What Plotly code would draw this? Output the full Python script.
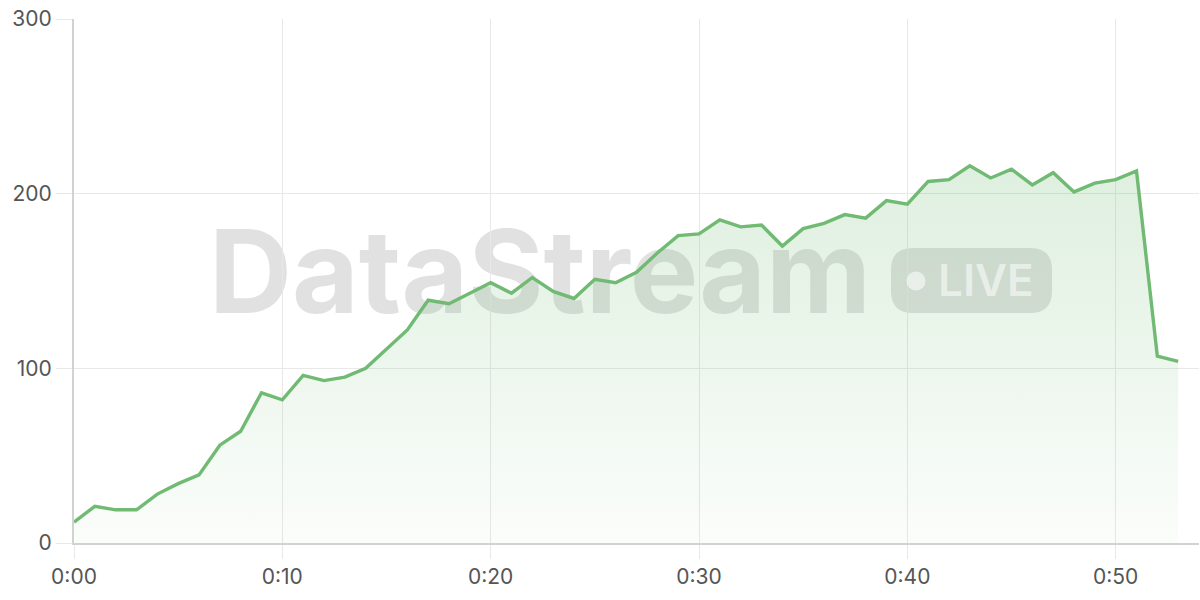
import plotly.graph_objects as go

# minutes since start and the reading at each minute
minutes = list(range(0, 54))
values = [12, 21, 19, 19, 28, 34, 39, 56, 64, 86,
          82, 96, 93, 95, 100, 111, 122, 139, 137, 143,
          149, 143, 152, 144, 140, 151, 149, 155, 166, 176,
          177, 185, 181, 182, 170, 180, 183, 188, 186, 196,
          194, 207, 208, 216, 209, 214, 205, 212, 201, 206,
          208, 213, 107, 104]

x_ticks = [0, 10, 20, 30, 40, 50]
x_labels = ["0:00", "0:10", "0:20", "0:30", "0:40", "0:50"]
y_ticks = [0, 100, 200, 300]

line_green = "rgb(112,186,115)"
grid = "#e8e8e8"
axis_col = "#d2d2d2"
label_col = "#555555"

# plot area in pixels (used to place the watermark)
L, R, T, B = 74, 1199, 19, 543
def px(xp):
    return (xp - L) / (R - L)
def py(yp):
    return (B - yp) / (B - T)

fig = go.Figure()
fig.add_trace(go.Scatter(
    x=minutes, y=values, mode="lines",
    line=dict(color=line_green, width=3.4),
    fill="tozeroy",
    fillgradient=dict(type="vertical", start=0, stop=300,
                      colorscale=[[0, "rgba(109,185,112,0.03)"],
                                  [1, "rgba(109,185,112,0.30)"]]),
    hoverinfo="skip", showlegend=False,
))

wm = "rgba(150,150,150,0.29)"
pill = ("M -58.5,-32.5 L 58.5,-32.5 Q 80.5,-32.5 80.5,-10.5 L 80.5,10.5 "
        "Q 80.5,32.5 58.5,32.5 L -58.5,32.5 Q -80.5,32.5 -80.5,10.5 "
        "L -80.5,-10.5 Q -80.5,-32.5 -58.5,-32.5 Z")
shapes = [
    dict(type="rect", xref="paper", yref="paper", layer="below",
         x0=px(180), x1=px(900), y0=py(326), y1=py(208),
         line=dict(width=0), fillcolor="rgba(0,0,0,0)",
         label=dict(text="DataStream", textposition="middle center",
                    font=dict(family="Inter", size=115, color=wm, weight=700))),
    dict(type="path", xref="paper", yref="paper", layer="below",
         xsizemode="pixel", ysizemode="pixel",
         xanchor=px(971.5), yanchor=py(280.5), path=pill,
         line=dict(width=0), fillcolor=wm),
    dict(type="circle", xref="paper", yref="paper", layer="above",
         xsizemode="pixel", ysizemode="pixel",
         xanchor=px(916), yanchor=py(281), x0=-9.5, x1=9.5, y0=-9.5, y1=9.5,
         line=dict(width=0), fillcolor="rgba(255,255,255,0.55)"),
]

fig.update_layout(
    width=1200, height=600,
    margin=dict(l=L, r=1200 - R, t=T, b=600 - B),
    paper_bgcolor="white", plot_bgcolor="white",
    shapes=shapes,
    annotations=[
        dict(text="LIVE", xref="paper", yref="paper", x=px(986), y=py(280),
             xanchor="center", yanchor="middle",
             showarrow=False, font=dict(family="Inter", size=44, weight=600,
                                        color="rgba(255,255,255,0.55)")),
    ],
    xaxis=dict(range=[0, 54], tickvals=x_ticks, ticktext=x_labels,
               showgrid=True, gridcolor=grid, gridwidth=1,
               showline=True, linecolor=axis_col, linewidth=2,
               ticks="outside", ticklen=14, tickcolor=grid,
               tickfont=dict(family="Inter", size=21, color=label_col),
               zeroline=False, fixedrange=True),
    yaxis=dict(range=[0, 300], tickvals=y_ticks,
               showgrid=True, gridcolor=grid, gridwidth=1,
               showline=True, linecolor=axis_col, linewidth=2,
               ticks="outside", ticklen=16, tickcolor=grid,
               tickfont=dict(family="Inter", size=21, color=label_col),
               zeroline=False, fixedrange=True),
)

fig.write_html("out.html", config={"displayModeBar": False},
               post_script="document.body.style.margin='0';")
